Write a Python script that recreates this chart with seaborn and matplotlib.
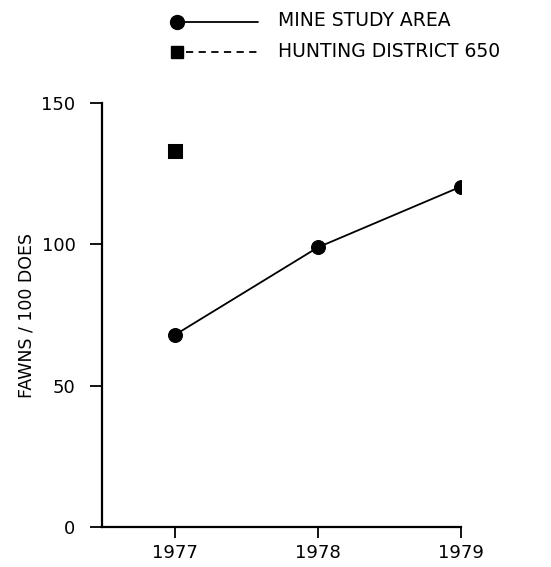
import matplotlib
matplotlib.use("Agg")
import matplotlib.pyplot as plt
from matplotlib.lines import Line2D
import seaborn as sns
import pandas as pd

years_mine = [1977, 1978, 1979]
mine_values = [68, 99, 120.5]
years_hunting = [1977]
hunting_values = [133]
y_ticks = [0, 50, 100, 150]
x_ticks = [1977, 1978, 1979]

sns.set_theme(style="ticks")
plt.rcParams["font.family"] = ["DejaVu Sans"]

fig = plt.figure(figsize=(5.51, 5.67), dpi=100)
ax = fig.add_axes([0.185, 0.0705, 0.652, 0.7475])

mine = pd.DataFrame({"year": years_mine, "value": mine_values})
hunt = pd.DataFrame({"year": years_hunting, "value": hunting_values})

sns.lineplot(data=mine, x="year", y="value", ax=ax, color="black", lw=1.3,
             marker="o", markersize=10, markeredgecolor="black", legend=False)
sns.scatterplot(data=hunt, x="year", y="value", ax=ax, color="black",
                marker="s", s=90, edgecolor="black", legend=False)

ax.set_xlim(1976.49, 1979.0)
ax.set_ylim(0, 150)
ax.set_xticks(x_ticks)
ax.set_xticklabels([str(x) for x in x_ticks])
ax.set_yticks(y_ticks)
ax.set_yticklabels([str(y) for y in y_ticks])
ax.set_xlabel("")
ax.set_ylabel("FAWNS / 100 DOES", fontsize=12.5, labelpad=4, color="black")

for s in ["top", "right"]:
    ax.spines[s].set_visible(False)
for s in ["left", "bottom"]:
    ax.spines[s].set_linewidth(1.6)
    ax.spines[s].set_color("black")
ax.tick_params(axis="y", direction="out", length=9, width=1.3, pad=10,
               labelsize=13, colors="black")
ax.tick_params(axis="x", direction="out", length=8, width=1.3, pad=4,
               labelsize=13, colors="black")

# legend drawn manually at top
fig.add_artist(Line2D([0.321, 0.468], [0.961, 0.961], color="black", lw=1.3,
                      transform=fig.transFigure))
fig.add_artist(Line2D([0.321], [0.961], color="black", marker="o",
                      markersize=10, lw=0, transform=fig.transFigure))
fig.text(0.505, 0.963, "MINE STUDY AREA", fontsize=13.5, va="center",
         ha="left", color="black")
fig.add_artist(Line2D([0.338, 0.468], [0.908, 0.908], color="black", lw=1.3,
                      ls=(0, (4, 3)), transform=fig.transFigure))
fig.add_artist(Line2D([0.321], [0.908], color="black", marker="s",
                      markersize=9, lw=0, transform=fig.transFigure))
fig.text(0.505, 0.910, "HUNTING DISTRICT 650", fontsize=13.5, va="center",
         ha="left", color="black")

fig.savefig("out.png", dpi=100)
